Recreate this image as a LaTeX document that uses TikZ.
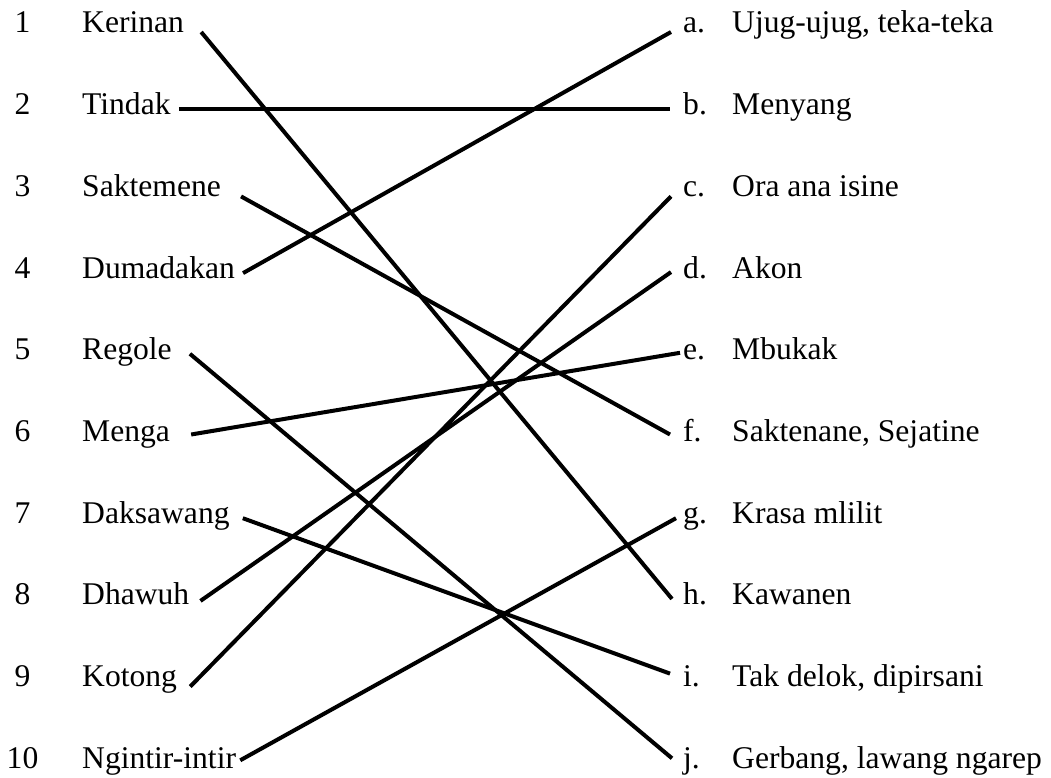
\documentclass[tikz,border=0pt]{standalone}
\usepackage{fontspec}
\setmainfont{Liberation Serif}
\begin{document}
\begin{tikzpicture}[x=1pt,y=-1pt,
  num/.style={anchor=base,inner sep=0pt,font=\fontsize{31.6}{36}\selectfont},
  word/.style={anchor=base west,inner sep=0pt,font=\fontsize{31.6}{36}\selectfont},
  link/.style={line width=4pt,black}]
\useasboundingbox (0,0) rectangle (1051,778);
\def\rowy#1{33+81.7*(#1-1)}
% left column
\foreach \i/\w in {1/Kerinan,2/Tindak,3/Saktemene,4/Dumadakan,5/Regole,6/Menga,7/Daksawang,8/Dhawuh,9/Kotong,10/Ngintir-intir}{
  \node[num] (n\i) at (22.5,{\rowy{\i}}) {\i};
  \node[word] (w\i) at (82,{\rowy{\i}}) {\w};
}
% right column
\foreach \i/\l/\t in {1/a/{Ujug-ujug, teka-teka},2/b/Menyang,3/c/{Ora ana isine},4/d/Akon,5/e/Mbukak,6/f/{Saktenane, Sejatine},7/g/{Krasa mlilit},8/h/Kawanen,9/i/{Tak delok, dipirsani},10/j/{Gerbang, lawang ngarep}}{
  \node[word] (r\l) at (683,{\rowy{\i}}) {\l.};
  \node[word] (t\l) at (732,{\rowy{\i}}) {\t};
}
% connectors
\draw[link] ([shift={(17,-1)}]w1.base east) -- ([shift={(-11,-6)}]rh.base west);
\draw[link] ([shift={(8,-6)}]w2.base east) -- ([shift={(-13,-6)}]rb.base west);
\draw[link] ([shift={(20,0)}]w3.base east) -- ([shift={(-13,-7)}]rf.base west);
\draw[link] ([shift={(8,-5)}]w4.base east) -- ([shift={(-12,-1)}]ra.base west);
\draw[link] ([shift={(18,-6)}]w5.base east) -- ([shift={(-11,-10)}]rj.base west);
\draw[link] ([shift={(13,-5)}]w7.base east) -- ([shift={(-13,-13)}]ri.base west);
\draw[link] ([shift={(21,-7)}]w6.base east) -- ([shift={(-3,-7)}]re.base west);
\draw[link] ([shift={(11,-4)}]w8.base east) -- ([shift={(-12,-6)}]rd.base west);
\draw[link] ([shift={(13,0)}]w9.base east) -- ([shift={(-12,0)}]rc.base west);
\draw[link] ([shift={(4,-8)}]w10.base east) -- ([shift={(-7,-5)}]rg.base west);
\end{tikzpicture}
\end{document}
